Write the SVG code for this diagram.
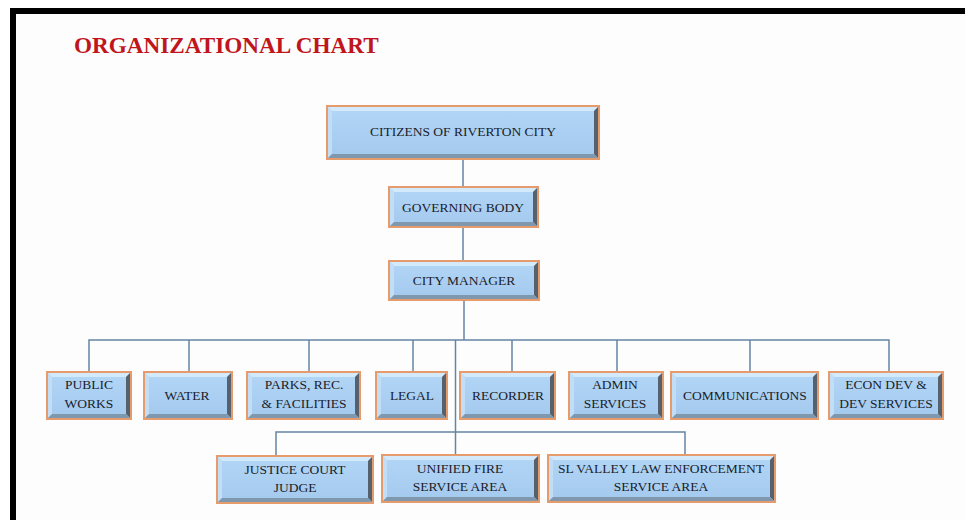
<svg xmlns="http://www.w3.org/2000/svg" width="965" height="520" viewBox="0 0 965 520">
<defs>
<linearGradient id="fillg" x1="0" y1="0" x2="0" y2="1">
<stop offset="0" stop-color="#b3d6f6"/>
<stop offset="1" stop-color="#a3c9ee"/>
</linearGradient>
</defs>
<style>
.box{fill:url(#fillg);stroke:#e59b6b;stroke-width:2}
.hl{fill:#d3e9fc}
.hl2{fill:#c2ddf6}
.sh{fill:#56616e}
.sh2{fill:#8098ae}
.t{font-family:"Liberation Serif","Times New Roman",serif;font-size:13.5px;fill:#1a1d2a;text-anchor:middle}
.title{font-family:"Liberation Serif","Times New Roman",serif;font-size:23.2px;font-weight:bold;fill:#c0151d}
.c{fill:none;stroke:#6585a4;stroke-width:1.5}
</style>
<rect x="0" y="0" width="965" height="520" fill="#ffffff"/>
<rect x="16" y="14" width="949" height="506" fill="#fdfdfd"/>
<path d="M10 8H965V14H16V520H10Z" fill="#000"/>
<text class="title" x="74" y="53">ORGANIZATIONAL CHART</text>

<g id="connectors">
<path class="c" d="M463 159V187M463 227V261M464 300V340"/>
<path class="c" d="M89 372V340H889V372M189 340V372M309 340V372M413 340V372M512 340V372M617 340V372M750 340V372"/>
<path class="c" d="M455.5 340V455"/>
<path class="c" d="M276 456V432H685V455"/>
</g>

<g id="citizens">
<rect class="box" x="327" y="106" width="272" height="53"/>
<path class="hl" d="M328 107H598L594 111H332Z"/><path class="hl2" d="M328 107L332 111V154L328 158Z"/>
<path class="sh" d="M598 107V158L594 154V111Z"/><path class="sh2" d="M328 158H598L594 154H332Z"/>
<text class="t" x="463" y="136">CITIZENS OF RIVERTON CITY</text>
</g>

<g id="governing">
<rect class="box" x="389" y="187" width="149" height="40"/>
<path class="hl" d="M390 188H537L533 192H394Z"/><path class="hl2" d="M390 188L394 192V222L390 226Z"/>
<path class="sh" d="M537 188V226L533 222V192Z"/><path class="sh2" d="M390 226H537L533 222H394Z"/>
<text class="t" x="463" y="212">GOVERNING BODY</text>
</g>

<g id="manager">
<rect class="box" x="389" y="261" width="150" height="39"/>
<path class="hl" d="M390 262H538L534 266H394Z"/><path class="hl2" d="M390 262L394 266V295L390 299Z"/>
<path class="sh" d="M538 262V299L534 295V266Z"/><path class="sh2" d="M390 299H538L534 295H394Z"/>
<text class="t" x="464" y="285">CITY MANAGER</text>
</g>

<g id="publicworks">
<rect class="box" x="47" y="372" width="84" height="47"/>
<path class="hl" d="M48 373H130L126 377H52Z"/><path class="hl2" d="M48 373L52 377V414L48 418Z"/>
<path class="sh" d="M130 373V418L126 414V377Z"/><path class="sh2" d="M48 418H130L126 414H52Z"/>
<text class="t" x="89" y="389">PUBLIC</text><text class="t" x="89" y="408">WORKS</text>
</g>

<g id="water">
<rect class="box" x="144" y="372" width="88" height="47"/>
<path class="hl" d="M145 373H231L227 377H149Z"/><path class="hl2" d="M145 373L149 377V414L145 418Z"/>
<path class="sh" d="M231 373V418L227 414V377Z"/><path class="sh2" d="M145 418H231L227 414H149Z"/>
<text class="t" x="187" y="400">WATER</text>
</g>

<g id="parks">
<rect class="box" x="247" y="372" width="113" height="47"/>
<path class="hl" d="M248 373H359L355 377H252Z"/><path class="hl2" d="M248 373L252 377V414L248 418Z"/>
<path class="sh" d="M359 373V418L355 414V377Z"/><path class="sh2" d="M248 418H359L355 414H252Z"/>
<text class="t" x="304" y="389">PARKS, REC.</text><text class="t" x="304" y="408">&amp; FACILITIES</text>
</g>

<g id="legal">
<rect class="box" x="376" y="372" width="71" height="47"/>
<path class="hl" d="M377 373H446L442 377H381Z"/><path class="hl2" d="M377 373L381 377V414L377 418Z"/>
<path class="sh" d="M446 373V418L442 414V377Z"/><path class="sh2" d="M377 418H446L442 414H381Z"/>
<text class="t" x="412" y="400">LEGAL</text>
</g>

<g id="recorder">
<rect class="box" x="460" y="372" width="95" height="47"/>
<path class="hl" d="M461 373H554L550 377H465Z"/><path class="hl2" d="M461 373L465 377V414L461 418Z"/>
<path class="sh" d="M554 373V418L550 414V377Z"/><path class="sh2" d="M461 418H554L550 414H465Z"/>
<text class="t" x="508" y="400">RECORDER</text>
</g>

<g id="admin">
<rect class="box" x="569" y="372" width="94" height="47"/>
<path class="hl" d="M570 373H662L658 377H574Z"/><path class="hl2" d="M570 373L574 377V414L570 418Z"/>
<path class="sh" d="M662 373V418L658 414V377Z"/><path class="sh2" d="M570 418H662L658 414H574Z"/>
<text class="t" x="615" y="389">ADMIN</text><text class="t" x="615" y="408">SERVICES</text>
</g>

<g id="communications">
<rect class="box" x="671" y="372" width="147" height="47"/>
<path class="hl" d="M672 373H817L813 377H676Z"/><path class="hl2" d="M672 373L676 377V414L672 418Z"/>
<path class="sh" d="M817 373V418L813 414V377Z"/><path class="sh2" d="M672 418H817L813 414H676Z"/>
<text class="t" x="745" y="400">COMMUNICATIONS</text>
</g>

<g id="econdev">
<rect class="box" x="829" y="372" width="114" height="47"/>
<path class="hl" d="M830 373H942L938 377H834Z"/><path class="hl2" d="M830 373L834 377V414L830 418Z"/>
<path class="sh" d="M942 373V418L938 414V377Z"/><path class="sh2" d="M830 418H942L938 414H834Z"/>
<text class="t" x="886" y="389">ECON DEV &amp;</text><text class="t" x="886" y="408">DEV SERVICES</text>
</g>

<g id="justice">
<rect class="box" x="217" y="456" width="156" height="47"/>
<path class="hl" d="M218 457H372L368 461H222Z"/><path class="hl2" d="M218 457L222 461V498L218 502Z"/>
<path class="sh" d="M372 457V502L368 498V461Z"/><path class="sh2" d="M218 502H372L368 498H222Z"/>
<text class="t" x="295" y="474">JUSTICE COURT</text><text class="t" x="295" y="492">JUDGE</text>
</g>

<g id="fire">
<rect class="box" x="382" y="455" width="157" height="47"/>
<path class="hl" d="M383 456H538L534 460H387Z"/><path class="hl2" d="M383 456L387 460V497L383 501Z"/>
<path class="sh" d="M538 456V501L534 497V460Z"/><path class="sh2" d="M383 501H538L534 497H387Z"/>
<text class="t" x="460" y="473">UNIFIED FIRE</text><text class="t" x="460" y="491">SERVICE AREA</text>
</g>

<g id="slvalley">
<rect class="box" x="548" y="455" width="227" height="47"/>
<path class="hl" d="M549 456H774L770 460H553Z"/><path class="hl2" d="M549 456L553 460V497L549 501Z"/>
<path class="sh" d="M774 456V501L770 497V460Z"/><path class="sh2" d="M549 501H774L770 497H553Z"/>
<text class="t" x="661" y="473">SL VALLEY LAW ENFORCEMENT</text><text class="t" x="661" y="491">SERVICE AREA</text>
</g>
</svg>
